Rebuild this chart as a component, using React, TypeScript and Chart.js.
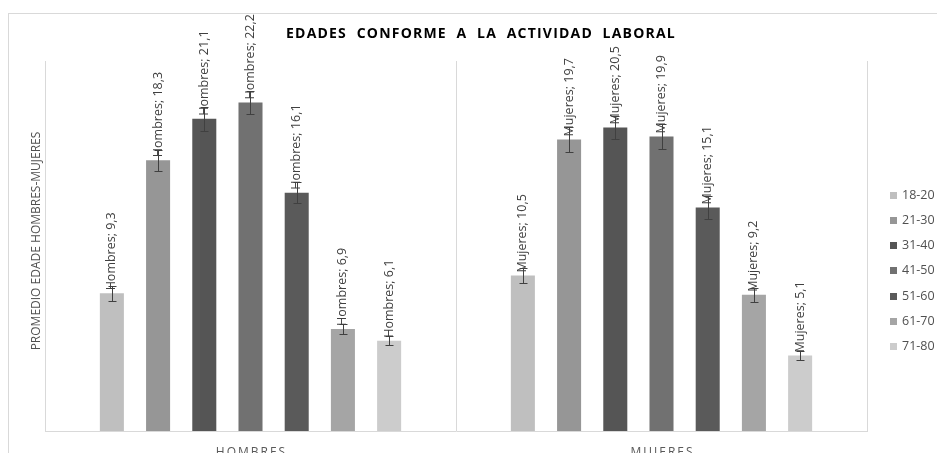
import { useEffect, useRef } from "react";
import { Chart, registerables } from "chart.js";

Chart.register(...registerables);

const categories = ["HOMBRES", "MUJERES"];
const labelPrefixes = ["Hombres", "Mujeres"];
const ageGroups = ["18-20", "21-30", "31-40", "41-50", "51-60", "61-70", "71-80"];
const hombres = [9.3, 18.3, 21.1, 22.2, 16.1, 6.9, 6.1];
const mujeres = [10.5, 19.7, 20.5, 19.9, 15.1, 9.2, 5.1];
const hombresErr = [0.5, 0.7, 0.8, 0.8, 0.7, 0.35, 0.3];
const mujeresErr = [0.5, 0.85, 0.8, 0.85, 0.75, 0.45, 0.32];
const colors = ["#bfbfbf", "#969696", "#555555", "#717171", "#5a5a5a", "#a5a5a5", "#cccccc"];
const chartTitle = "EDADES  CONFORME  A  LA  ACTIVIDAD  LABORAL";
const yTitle = "PROMEDIO EDADE HOMBRES-MUJERES";

const FONT = '"Open Sans", "DejaVu Sans", sans-serif';

function fmt(v: number) {
  return v.toFixed(1).replace(".", ",");
}

const customPlugin = {
  id: "custom",
  beforeDraw(chart: any) {
    const ctx = chart.ctx;
    ctx.save();
    ctx.strokeStyle = "#d9d9d9";
    ctx.lineWidth = 1;
    ctx.strokeRect(8.5, 13.5, 1200, 1200);
    ctx.restore();
  },
  afterDatasetsDraw(chart: any) {
    const ctx = chart.ctx;
    const ys = chart.scales.y;
    const xs = chart.scales.x;
    const area = chart.chartArea;
    const errs = [hombresErr, mujeresErr];
    ctx.save();
    // error bars
    chart.data.datasets.forEach((ds: any, di: number) => {
      const meta = chart.getDatasetMeta(di);
      meta.data.forEach((bar: any, j: number) => {
        const v = ds.data[j];
        const e = errs[j][di];
        const cx = Math.round(bar.x) + 0.5;
        const yt = Math.round(ys.getPixelForValue(v + e)) + 0.5;
        const yb = Math.round(ys.getPixelForValue(v - e)) + 0.5;
        ctx.strokeStyle = "#404040";
        ctx.lineWidth = 1;
        ctx.beginPath();
        ctx.moveTo(cx, yt);
        ctx.lineTo(cx, yb);
        ctx.moveTo(cx - 4, yt);
        ctx.lineTo(cx + 4, yt);
        ctx.moveTo(cx - 4, yb);
        ctx.lineTo(cx + 4, yb);
        ctx.stroke();
      });
    });
    // data labels
    chart.data.datasets.forEach((ds: any, di: number) => {
      const meta = chart.getDatasetMeta(di);
      meta.data.forEach((bar: any, j: number) => {
        const v = ds.data[j];
        const text = labelPrefixes[j] + "; " + fmt(v);
        ctx.save();
        ctx.translate(bar.x, bar.y - 3);
        ctx.rotate(-Math.PI / 2);
        ctx.font = "12.5px " + FONT;
        ctx.fillStyle = "#404040";
        ctx.textAlign = "left";
        ctx.textBaseline = "middle";
        ctx.fillText(text, 0, 0);
        ctx.restore();
      });
    });
    // category labels
    ctx.font = "12px " + FONT;
    ctx.fillStyle = "#595959";
    ctx.textAlign = "center";
    ctx.textBaseline = "top";
    (ctx as any).letterSpacing = "2px";
    categories.forEach((c, i) => {
      ctx.fillText(c, xs.getPixelForValue(i) + 1, area.bottom + 16);
    });
    (ctx as any).letterSpacing = "0px";
    // y title
    ctx.save();
    ctx.translate(37, (area.top + area.bottom) / 2 - 5);
    ctx.rotate(-Math.PI / 2);
    ctx.font = "12px " + FONT;
    ctx.fillStyle = "#505050";
    ctx.textAlign = "center";
    ctx.textBaseline = "middle";
    ctx.fillText(yTitle, 0, 0);
    ctx.restore();
    // title
    ctx.font = "bold 14px " + FONT;
    ctx.fillStyle = "#000000";
    ctx.textAlign = "center";
    ctx.textBaseline = "middle";
    (ctx as any).letterSpacing = "1.2px";
    ctx.fillText(chartTitle, 481, 34);
    (ctx as any).letterSpacing = "0px";
    // legend
    ctx.font = "12.5px " + FONT;
    ctx.textAlign = "left";
    ctx.textBaseline = "middle";
    chart.data.datasets.forEach((ds: any, di: number) => {
      const cy = 195 + di * 25.3;
      ctx.fillStyle = ds.backgroundColor;
      ctx.fillRect(890, Math.round(cy - 3.5), 7, 7);
      ctx.fillStyle = "#505050";
      ctx.fillText(ds.label, 902, cy);
    });
    ctx.restore();
  },
};

export default function App() {
  const ref = useRef<HTMLCanvasElement | null>(null);
  useEffect(() => {
    if (!ref.current) return;
    const chart = new Chart(ref.current, {
      type: "bar",
      data: {
        labels: categories,
        datasets: ageGroups.map((g, i) => ({
          label: g,
          data: [hombres[i], mujeres[i]],
          backgroundColor: colors[i],
          borderWidth: 0,
          categoryPercentage: 0.787,
          barPercentage: 0.52,
        })),
      },
      options: {
        animation: false,
        responsive: false,
        layout: { padding: { left: 45, right: 70, top: 61, bottom: 22 } },
        plugins: {
          legend: { display: false },
          tooltip: { enabled: false },
          title: { display: false },
        },
        scales: {
          x: {
            display: true,
            grid: { offset: true, color: "#d9d9d9", drawTicks: false },
            border: { color: "#d9d9d9" },
            ticks: { display: false },
          },
          y: {
            display: false,
            min: 0,
            max: 25,
          },
        },
      },
      plugins: [customPlugin],
    });
    return () => chart.destroy();
  }, []);
  return (
    <div style={{ position: "fixed", left: 0, top: 0, width: 937, height: 453, background: "#fff" }}>
      <canvas ref={ref} width={937} height={453} style={{ display: "block" }} />
    </div>
  );
}
